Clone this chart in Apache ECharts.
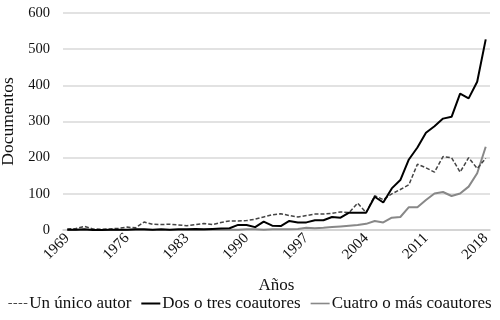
<!DOCTYPE html>
<html>
<head>
<meta charset="utf-8">
<script src="https://cdn.jsdelivr.net/npm/echarts@6/dist/echarts.min.js"></script>
<style>
  html, body { margin: 0; padding: 0; background: #fff; }
  #chart { width: 500px; height: 320px; }
</style>
</head>
<body>
<div id="chart"></div>
<script>
// años 1969 - 2018
const years = [];
for (let y = 1969; y <= 2018; y++) years.push(String(y));

const unicoAutor = [
  3, 4, 10, 3, 2, 3, 5, 8, 6, 22,
  16, 15, 16, 14, 12, 15, 18, 15, 21, 25,
  25, 26, 30, 36, 42, 45, 40, 36, 40, 44,
  44, 46, 50, 48, 74, 48, 95, 84, 100, 112,
  125, 182, 172, 160, 203, 200, 160, 200, 170, 198
];

const dosTres = [
  1, 1, 2, 0, 0, 1, 1, 1, 2, 2,
  1, 2, 1, 2, 2, 3, 2, 3, 4, 5,
  14, 14, 8, 23, 12, 11, 25, 21, 21, 27,
  27, 36, 34, 48, 48, 48, 92, 76, 115, 138,
  195, 228, 269, 287, 308, 313, 377, 364, 410, 527
];

const cuatroMas = [
  0, 0, 0, 0, 0, 0, 0, 0, 0, 0,
  0, 0, 0, 0, 0, 0, 0, 1, 1, 1,
  1, 2, 2, 1, 2, 2, 2, 3, 6, 5,
  6, 8, 10, 12, 14, 17, 25, 21, 34, 36,
  63, 63, 83, 101, 105, 94, 101, 120, 157, 230
];

const font = 'Liberation Serif';
const txt = '#111';

// iconos de la leyenda (líneas cortas)
const iconDash = 'path://M0,0h3.5v1.2h-3.5z M5,0h3.5v1.2h-3.5z M10,0h3.5v1.2h-3.5z M15,0h3.5v1.2h-3.5z';
const iconBlack = 'path://M0,0h19v2h-19z';
const iconGray = 'path://M0,0h19v1.6h-19z';

const chart = echarts.init(document.getElementById('chart'));
chart.setOption({
  animation: false,
  textStyle: { fontFamily: font },
  grid: { left: 63, right: 10, top: 13, bottom: 90, outerBoundsMode: 'none', containLabel: false },
  legend: {
    bottom: 3,
    left: 'center',
    itemGap: 10,
    itemWidth: 19,
    itemHeight: 12,
    textStyle: { fontFamily: font, fontSize: 17, color: txt, padding: [0, 0, 0, -3] },
    data: [
      { name: 'Un único autor', icon: iconDash },
      { name: 'Dos o tres coautores', icon: iconBlack },
      { name: 'Cuatro o más coautores', icon: iconGray }
    ]
  },
  xAxis: {
    type: 'category',
    data: years,
    boundaryGap: true,
    name: 'Años',
    nameLocation: 'middle',
    nameGap: 47,
    nameTextStyle: { fontFamily: font, fontSize: 17, color: txt },
    axisLine: { lineStyle: { color: '#d0d0d0', width: 1.5 } },
    axisTick: { show: false },
    axisLabel: {
      interval: 6,
      rotate: 45,
      margin: 6,
      fontFamily: font,
      fontSize: 15,
      color: txt
    }
  },
  yAxis: {
    type: 'value',
    min: 0,
    max: 600,
    interval: 100,
    name: 'Documentos',
    nameLocation: 'middle',
    nameGap: 34,
    nameTextStyle: { fontFamily: font, fontSize: 17.5, color: txt },
    axisLine: { show: false },
    axisTick: { show: false },
    axisLabel: { margin: 13, fontFamily: font, fontSize: 14.5, color: txt },
    splitLine: { lineStyle: { color: '#d9d9d9', width: 1.5 } }
  },
  series: [
    {
      name: 'Un único autor',
      type: 'line',
      data: unicoAutor,
      symbol: 'none',
      lineStyle: { color: '#444', width: 1.5, type: [4, 2] },
      itemStyle: { color: '#444' },
      z: 3
    },
    {
      name: 'Dos o tres coautores',
      type: 'line',
      data: dosTres,
      symbol: 'none',
      lineStyle: { color: '#000', width: 2 },
      itemStyle: { color: '#000' },
      z: 4
    },
    {
      name: 'Cuatro o más coautores',
      type: 'line',
      data: cuatroMas,
      symbol: 'none',
      lineStyle: { color: '#888', width: 2 },
      itemStyle: { color: '#888' },
      z: 2
    }
  ]
});
</script>
</body>
</html>
